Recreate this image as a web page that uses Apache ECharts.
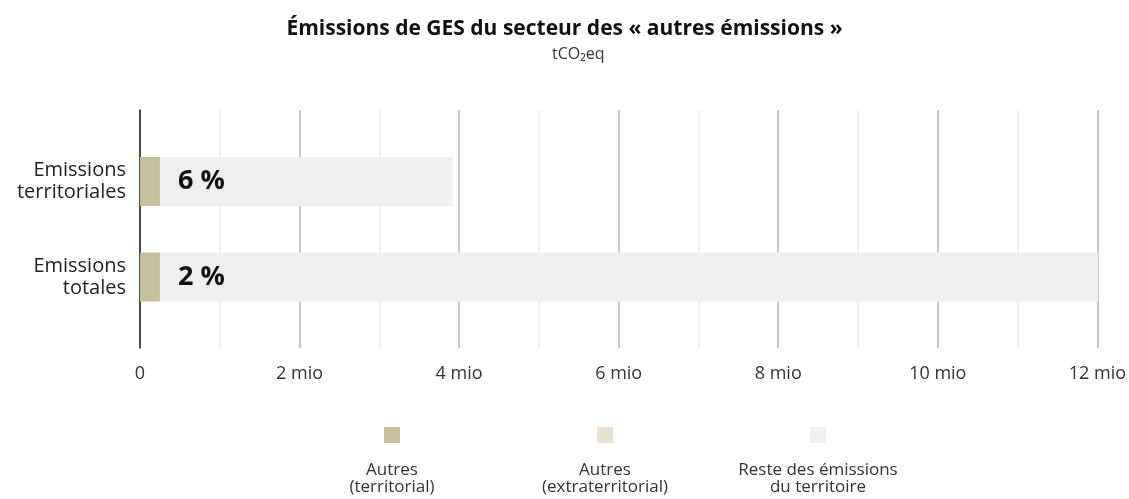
<!DOCTYPE html>
<html>
<head>
<meta charset="utf-8">
<script src="https://cdn.jsdelivr.net/npm/echarts@6/dist/echarts.min.js"></script>
<style>html,body{margin:0;padding:0;background:#fff}#c{width:1129px;height:499px}</style>
</head>
<body>
<div id="c"></div>
<script>
var categories = ['Emissions\nterritoriales', 'Emissions\ntotales'];
var autresTerritorial = [250000, 250000];
var autresExtraterritorial = [0, 0];
var resteEmissions = [3670000, 11760000];
var seriesNames = ['Autres (territorial)', 'Autres (extraterritorial)', 'Reste des émissions du territoire'];
var legendLabels = ['Autres\n(territorial)', 'Autres\n(extraterritorial)', 'Reste des émissions\ndu territoire'];
var tickLabels = ['0', '2 mio', '4 mio', '6 mio', '8 mio', '10 mio', '12 mio'];
var colors = ['#c5bf9a', '#e8e2cb', '#efefef'];

var FONT = '"Open Sans", "Noto Sans", sans-serif';
var chart = echarts.init(document.getElementById('c'), null, {renderer: 'canvas'});

function pct(i) {
  var total = autresTerritorial[i] + autresExtraterritorial[i] + resteEmissions[i];
  return Math.round((autresTerritorial[i] + autresExtraterritorial[i]) / total * 100) + ' %';
}

var legendX = [392, 605, 818];
var legends = seriesNames.map(function (n, i) {
  return {
    data: [n], left: legendX[i] - 8, top: 427, icon: 'rect', itemWidth: 16, itemHeight: 16,
    formatter: function () { return ''; }, selectedMode: false, itemGap: 0, padding: 0
  };
});
var graphics = legendLabels.map(function (t, i) {
  return {
    type: 'text', x: legendX[i], y: 462,
    style: {text: t, align: 'center', verticalAlign: 'top', font: '17px ' + FONT, fill: '#333', lineHeight: 17}
  };
});

chart.setOption({
  animation: false,
  title: [{
    text: 'Émissions de GES du secteur des « autres émissions »',
    left: 'center', top: 14,
    textStyle: {fontFamily: FONT, fontWeight: 'bold', fontSize: 21, color: '#111'}
  }, {
    text: 'tCO₂eq', left: 547, top: 41,
    textStyle: {fontFamily: FONT, fontWeight: 'normal', fontSize: 16, color: '#333'}
  }],
  legend: legends,
  graphic: graphics,
  grid: [
    {left: 140, right: 31, top: 110, bottom: 151},
    {left: 140, right: 31, top: 133.75, bottom: 174.25}
  ],
  xAxis: [{
    gridIndex: 0, type: 'value', min: 0, max: 12000000, interval: 2000000,
    axisLine: {show: false}, axisTick: {show: false},
    axisLabel: {
      margin: 17, fontFamily: FONT, fontSize: 18, color: '#333',
      formatter: function (v) { return tickLabels[Math.round(v / 2000000)]; }
    },
    splitLine: {show: true, lineStyle: {color: '#b4b4b4', width: 1.5}},
    minorTick: {show: false, splitNumber: 2},
    minorSplitLine: {show: true, lineStyle: {color: '#ececec', width: 1.5}}
  }, {
    gridIndex: 1, type: 'value', min: 0, max: 12000000, interval: 2000000,
    axisLine: {show: false}, axisTick: {show: false}, axisLabel: {show: false}, splitLine: {show: false}
  }],
  yAxis: [{
    gridIndex: 0, type: 'value', min: 0, max: 1,
    axisLine: {show: true, lineStyle: {color: '#222', width: 1.5}},
    axisTick: {show: false}, axisLabel: {show: false}, splitLine: {show: false}
  }, {
    gridIndex: 1, type: 'category', data: categories, inverse: true,
    axisLine: {show: false}, axisTick: {show: false},
    axisLabel: {margin: 14, fontFamily: FONT, fontSize: 20, color: '#222', lineHeight: 22, align: 'right'}
  }],
  series: [
    {name: seriesNames[0], type: 'bar', stack: 'a', data: autresTerritorial, barWidth: 49,
     xAxisIndex: 1, yAxisIndex: 1, itemStyle: {color: colors[0]}},
    {name: seriesNames[1], type: 'bar', stack: 'a', data: autresExtraterritorial, barWidth: 49,
     xAxisIndex: 1, yAxisIndex: 1, itemStyle: {color: colors[1]}},
    {name: seriesNames[2], type: 'bar', stack: 'a', data: resteEmissions, barWidth: 49,
     xAxisIndex: 1, yAxisIndex: 1, itemStyle: {color: colors[2]},
     label: {show: true, position: 'insideLeft', distance: 18,
       formatter: function (p) { return pct(p.dataIndex); },
       fontFamily: FONT, fontWeight: 'bold', fontSize: 27, color: '#111'}}
  ]
});
</script>
</body>
</html>
